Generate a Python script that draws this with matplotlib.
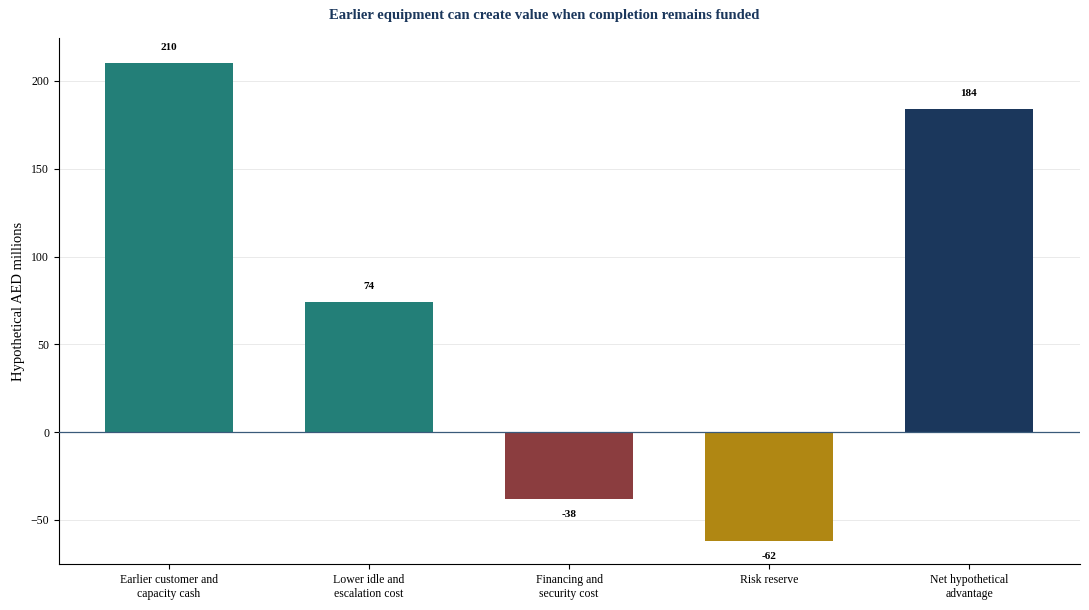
import matplotlib.pyplot as plt

plt.rcParams["font.family"] = ["Liberation Serif", "DejaVu Serif"]

categories = ["Earlier customer and\ncapacity cash", "Lower idle and\nescalation cost",
              "Financing and\nsecurity cost", "Risk reserve", "Net hypothetical\nadvantage"]
values = [210, 74, -38, -62, 184]
colors = ["#237F78", "#237F78", "#8B3D3F", "#B08713", "#1B375C"]

fig = plt.figure(figsize=(10.89, 6.10), dpi=100)
ax = fig.add_axes([59 / 1089, 1 - 564 / 610, (1080 - 59) / 1089, (564 - 38) / 610])
x = range(len(values))
ax.bar(x, values, width=0.64, color=colors, zorder=2)
ax.axhline(0, color="#3A5A7A", linewidth=0.9, zorder=3)

for xi, v in zip(x, values):
    off = 8 if v >= 0 else -8
    ax.annotate(f"{v}", (xi, v), xytext=(0, off), textcoords="offset points",
                ha="center", va="bottom" if v >= 0 else "top",
                fontsize=8, fontweight="bold")

ax.set_xlim(-0.55, 4.555)
ax.set_ylim(-75.2, 224.5)
ax.set_yticks([-50, 0, 50, 100, 150, 200])
ax.set_xticks(list(x))
ax.set_xticklabels(categories, fontsize=8.5)
ax.tick_params(axis="y", labelsize=8.5)
ax.set_ylabel("Hypothetical AED millions", fontsize=10.5)
ax.grid(axis="y", color="#E6E6E6", linewidth=0.6, zorder=0)
ax.spines["top"].set_visible(False)
ax.spines["right"].set_visible(False)
fig.suptitle("Earlier equipment can create value when completion remains funded",
             y=1 - 15 / 610, va="center", fontsize=10.5, fontweight="bold", color="#1B375C")

fig.savefig("out.png", dpi=100)
